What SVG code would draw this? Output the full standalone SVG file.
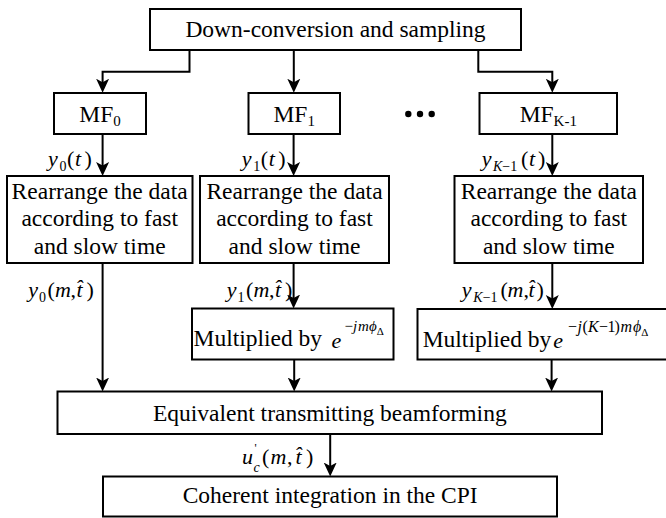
<svg xmlns="http://www.w3.org/2000/svg" width="666" height="518" viewBox="0 0 666 518">
  <style>
    .bx { fill: #fff; stroke: #000; stroke-width: 2; }
    .ln { fill: none; stroke: #000; stroke-width: 2; marker-end: url(#ah); }
    .t  { font-family: "Liberation Serif", "Times New Roman", serif; font-size: 23.5px; fill: #000; }
    .c  { text-anchor: middle; }
    .mi { font-family: "Liberation Serif", "Times New Roman", serif; font-style: italic; font-size: 22px; fill: #000; }
    .up { font-style: normal; }
    .sb { font-size: 14px; }
    .ex { font-size: 15px; }
    .ex2 { font-size: 16px; }
    .dl { font-size: 11px; font-style: normal; }
  </style>
  <defs>
    <marker id="ah" viewBox="0 0 14 14" markerWidth="14" markerHeight="14" refX="8" refY="7" orient="auto" markerUnits="userSpaceOnUse">
      <path d="M0,0.5 L14,7 L0,13.5 L3.5,7 z" fill="#000"/>
    </marker>
  </defs>

  <!-- connectors -->
  <g id="connectors">
    <path class="ln" d="M189.5,50 V71.7 H102.6 V86.7"/>
    <path class="ln" d="M293.8,50 V86.7"/>
    <path class="ln" d="M478.3,50 V71.7 H552.3 V86.7"/>
    <path class="ln" d="M102.6,134 V170"/>
    <path class="ln" d="M293.6,134 V170"/>
    <path class="ln" d="M552.3,134 V170"/>
    <path class="ln" d="M102.6,263 V385.5"/>
    <path class="ln" d="M293.6,263 V302.5"/>
    <path class="ln" d="M552.3,263 V303"/>
    <path class="ln" d="M294.2,359.5 V385.5"/>
    <path class="ln" d="M551.6,359.5 V385.5"/>
    <path class="ln" d="M330.2,434 V470.5"/>
  </g>

  <!-- signal labels on connectors -->
  <g id="labels">
    <text class="mi" y="166"><tspan x="48">y</tspan><tspan class="sb up" x="59.5" y="171">0</tspan><tspan class="up" x="67" y="166">(</tspan><tspan x="75">t</tspan><tspan class="up" x="84.5">)</tspan></text>
    <text class="mi" y="166"><tspan x="241.7">y</tspan><tspan class="sb up" x="253.2" y="171">1</tspan><tspan class="up" x="260.7" y="166">(</tspan><tspan x="268.7">t</tspan><tspan class="up" x="278.2">)</tspan></text>
    <text class="mi" y="166"><tspan x="481.7">y</tspan><tspan class="sb" x="493" y="171">K</tspan><tspan class="sb up">−1</tspan><tspan class="up" x="521" y="166">(</tspan><tspan x="529">t</tspan><tspan class="up" x="538">)</tspan></text>

    <text class="mi" y="296.5"><tspan x="28.3">y</tspan><tspan class="sb up" x="39" y="301.5">0</tspan><tspan class="up" x="47.5" y="296.5">(</tspan><tspan x="55">m</tspan><tspan class="up" x="70.5">,</tspan><tspan x="76.5">t̂</tspan><tspan class="up" x="86.5">)</tspan></text>
    <text class="mi" y="296.5"><tspan x="226.7">y</tspan><tspan class="sb up" x="237.4" y="301.5">1</tspan><tspan class="up" x="245.9" y="296.5">(</tspan><tspan x="253.4">m</tspan><tspan class="up" x="268.9">,</tspan><tspan x="274.9">t̂</tspan><tspan class="up" x="284.9">)</tspan></text>
    <text class="mi" y="296.5"><tspan x="461.7">y</tspan><tspan class="sb" x="473.3" y="301.5">K</tspan><tspan class="sb up">−1</tspan><tspan class="up" x="500.5" y="296.5">(</tspan><tspan x="507.5">m</tspan><tspan class="up" x="523.5">,</tspan><tspan x="528.5">t̂</tspan><tspan class="up" x="536.5">)</tspan></text>

    <text class="mi" y="464"><tspan x="242">u</tspan><tspan class="up" x="254.5" y="452" font-size="12">'</tspan><tspan class="sb" x="253.5" y="472">c</tspan><tspan class="up" x="262" y="464">(</tspan><tspan x="270.5">m</tspan><tspan class="up" x="287">,</tspan><tspan x="295.5">t̂</tspan><tspan class="up" x="306">)</tspan></text>
  </g>

  <g id="n-down">
    <rect class="bx" x="150" y="9" width="371" height="41"/>
    <text class="t c" x="335.5" y="37">Down-conversion and sampling</text>
  </g>

  <g id="n-mf0">
    <rect class="bx" x="54" y="93" width="92" height="41"/>
    <text class="t c" x="100" y="122" font-size="22">MF<tspan font-size="15" dy="4">0</tspan></text>
  </g>
  <g id="n-mf1">
    <rect class="bx" x="248.5" y="93" width="91.5" height="41"/>
    <text class="t c" x="294.2" y="122" font-size="22">MF<tspan font-size="15" dy="4">1</tspan></text>
  </g>
  <g id="n-dots">
    <circle cx="408.3" cy="114" r="3.2"/>
    <circle cx="420" cy="114" r="3.2"/>
    <circle cx="431.7" cy="114" r="3.2"/>
  </g>
  <g id="n-mfk">
    <rect class="bx" x="479.5" y="93" width="137.5" height="41"/>
    <text class="t c" x="548.3" y="122" font-size="22">MF<tspan font-size="15" dy="4">K-1</tspan></text>
  </g>

  <g id="n-rearr0">
    <rect class="bx" x="7" y="176" width="185.5" height="87"/>
    <text class="t c" x="99.7" y="198.5">Rearrange the data</text>
    <text class="t c" x="99.7" y="226">according to fast</text>
    <text class="t c" x="99.7" y="253.5">and slow time</text>
  </g>
  <g id="n-rearr1">
    <rect class="bx" x="200" y="176" width="189" height="87"/>
    <text class="t c" x="294.5" y="198.5">Rearrange the data</text>
    <text class="t c" x="294.5" y="226">according to fast</text>
    <text class="t c" x="294.5" y="253.5">and slow time</text>
  </g>
  <g id="n-rearrk">
    <rect class="bx" x="454.5" y="176" width="188.5" height="87"/>
    <text class="t c" x="548.8" y="198.5">Rearrange the data</text>
    <text class="t c" x="548.8" y="226">according to fast</text>
    <text class="t c" x="548.8" y="253.5">and slow time</text>
  </g>

  <g id="n-mult1">
    <rect class="bx" x="192" y="308.5" width="201.5" height="51"/>
    <text class="t" x="193.5" y="345.5" font-size="24">Multiplied by</text>
    <text class="mi" x="331.5" y="347.5" font-size="28">e</text>
    <text class="mi ex" y="331"><tspan class="up" x="344.5">−</tspan><tspan x="353">j</tspan><tspan x="358">m</tspan><tspan x="369">ϕ</tspan><tspan class="dl" dy="4">Δ</tspan></text>
  </g>
  <g id="n-multk">
    <rect class="bx" x="417.5" y="309" width="252" height="50.5"/>
    <text class="t" x="422.7" y="347" font-size="22.7">Multiplied by</text>
    <text class="mi" x="553.3" y="348" font-size="28">e</text>
    <text class="mi ex2" y="332"><tspan class="up" x="568">−</tspan><tspan x="577.5">j</tspan><tspan class="up" x="582.5">(</tspan><tspan x="588">K</tspan><tspan class="up" x="599">−</tspan><tspan class="up" x="607.5">1</tspan><tspan class="up" x="614.5">)</tspan><tspan x="620.5">m</tspan><tspan x="633">ϕ</tspan><tspan class="dl" dy="4" font-size="12">Δ</tspan></text>
  </g>

  <g id="n-beam">
    <rect class="bx" x="57.5" y="391.5" width="544.5" height="42.5"/>
    <text class="t c" x="329.8" y="421">Equivalent transmitting beamforming</text>
  </g>

  <g id="n-coh">
    <rect class="bx" x="103" y="476.5" width="454" height="40"/>
    <text class="t c" x="330.2" y="503">Coherent integration in the CPI</text>
  </g>
</svg>
